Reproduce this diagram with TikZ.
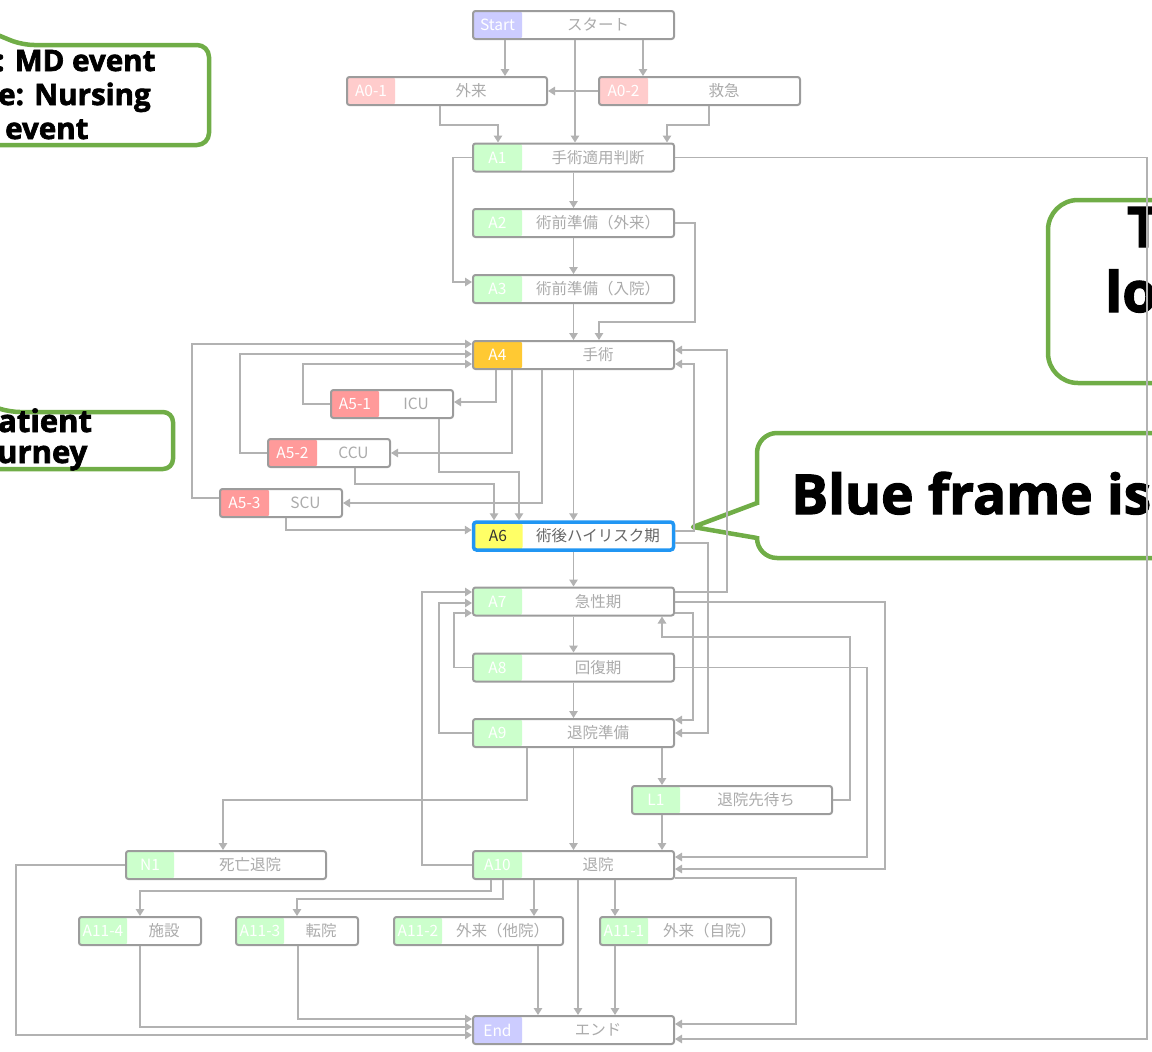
\documentclass[tikz,border=0pt]{standalone}
\usepackage{fontspec}
\newfontfamily\jpfont{Noto Sans CJK JP}
\newfontfamily\callfont{Open Sans}[BoldFeatures={FakeBold=2.2}]
\usetikzlibrary{arrows.meta}

\definecolor{edgegray}{HTML}{B2B2B2}
\definecolor{framegray}{HTML}{9C9C9C}
\definecolor{textgray}{HTML}{ABABAB}
\definecolor{lavender}{HTML}{CCCCFF}
\definecolor{pinklight}{HTML}{FFCCCC}
\definecolor{salmon}{HTML}{FF9A9A}
\definecolor{mint}{HTML}{CCFFCC}
\definecolor{amber}{HTML}{FFC933}
\definecolor{lemon}{HTML}{FFFF66}
\definecolor{frameblue}{HTML}{2196F3}
\definecolor{darklabel}{HTML}{333333}
\definecolor{midtext}{HTML}{666666}
\definecolor{calloutgreen}{HTML}{70AD47}

\tikzset{
  stagebox/.style={draw=framegray, line width=2pt, rounded corners=2.5pt, fill=white,
    minimum height=28pt, inner sep=0pt, text=textgray,
    font=\jpfont\fontsize{15.5}{18}\selectfont},
  labeltext/.style={text=white, inner sep=0pt},
  flow/.style={draw=edgegray, line width=1.3pt, -{Triangle[length=7pt,width=8.5pt]}},
  callout/.style={draw=calloutgreen, line width=4.5pt, line join=round},
  calltext/.style={text=black, inner sep=0pt, anchor=base west},
}

% #1 name, #2 x, #3 y, #4 width, #5 tag width, #6 tag fill, #7 tag, #8 text, #9 extra style
\newcommand\stagenode[9]{%
  \node[stagebox, minimum width=#4pt-2pt, #9, path picture={
      \fill[#6] (path picture bounding box.north west) rectangle
        ([xshift=#5pt]path picture bounding box.south west);
      \node[labeltext] at ([xshift=0.5*#5pt]path picture bounding box.west) {#7};
    }] (#1) at (#2,#3) {\hspace*{#5pt}#8};%
}

\begin{document}
\begin{tikzpicture}[x=1pt,y=-1pt]
\useasboundingbox (0,0) rectangle (1152,1052);
\clip (0,0) rectangle (1152,1052);

% ---------- callouts ----------
\draw[callout, rounded corners=12pt] (-12,31) -- (22,45) -- (209,45) -- (209,145) -- (-20,145);
\draw[callout, rounded corners=10pt] (-12,405) -- (10,412) -- (173,412) -- (173,469) -- (-20,469);
\draw[callout, rounded corners=30pt] (1200,200) -- (1048,200) -- (1048,383) -- (1200,383);
\draw[callout, rounded corners=20pt] (1200,433) -- (757,433) -- (757,558) -- (1200,558);
\fill[white] (754,505) rectangle (761,536);
\draw[callout] (757,503) -- (693,527) -- (757,538);

\node[calltext, font=\callfont\bfseries\fontsize{29.5}{33}\selectfont] (tla) at (-4,71) {: MD event};
\node[calltext, font=\callfont\bfseries\fontsize{29.5}{33}\selectfont] (tlb) at (-2,105) {e: Nursing};
\node[calltext, font=\callfont\bfseries\fontsize{29.5}{33}\selectfont] (tlc) at (5,139) {event};
\node[calltext, font=\callfont\bfseries\fontsize{31}{34}\selectfont] (mla) at (-2,432) {atient};
\node[calltext, font=\callfont\bfseries\fontsize{31}{34}\selectfont] (mlb) at (-3,463) {urney};
\node[calltext, font=\callfont\bfseries\fontsize{56}{60}\selectfont] (tra) at (1127,247) {T};
\node[calltext, font=\callfont\bfseries\fontsize{56}{60}\selectfont] (trb) at (1105,312) {lo};
\node[calltext, font=\callfont\bfseries\fontsize{55}{60}\selectfont] (bra) at (791,514) {Blue frame is};

% ---------- stages ----------
\stagenode{Start}{573.5}{25}{203}{49}{lavender}{Start}{スタート}{}
\stagenode{A01}{447}{91}{202}{48}{pinklight}{A0-1}{外来}{}
\stagenode{A02}{699.5}{91}{203}{49}{pinklight}{A0-2}{救急}{}
\stagenode{A1}{573.5}{157.5}{203}{49}{mint}{A1}{手術適用判断}{}
\stagenode{A2}{573.5}{223}{203}{49}{mint}{A2}{術前準備（外来）}{}
\stagenode{A3}{573.5}{289}{203}{49}{mint}{A3}{術前準備（入院）}{}
\stagenode{A4}{573.5}{355}{203}{49}{amber}{A4}{手術}{}
\stagenode{A51}{392}{404}{124}{48}{salmon}{A5-1}{ICU}{}
\stagenode{A52}{329}{453}{124}{49}{salmon}{A5-2}{CCU}{}
\stagenode{A53}{281}{503}{124}{49}{salmon}{A5-3}{SCU}{}
\stagenode{A6}{573.5}{536}{202}{49}{lemon}{\color{darklabel}A6}{術後ハイリスク期}{draw=frameblue, line width=3.5pt, rounded corners=3pt, text=midtext}
\stagenode{A7}{573.5}{601.5}{203}{49}{mint}{A7}{急性期}{}
\stagenode{A8}{573.5}{667.5}{203}{49}{mint}{A8}{回復期}{}
\stagenode{A9}{573.5}{733}{203}{49}{mint}{A9}{退院準備}{}
\stagenode{L1}{732}{800}{202}{48}{mint}{L1}{退院先待ち}{}
\stagenode{N1}{226}{865}{202}{48}{mint}{N1}{死亡退院}{}
\stagenode{A10}{573.5}{865}{203}{49}{mint}{A10}{退院}{}
\stagenode{A114}{140}{931}{124}{48}{mint}{A11-4}{施設}{}
\stagenode{A113}{297}{931}{124}{48}{mint}{A11-3}{転院}{}
\stagenode{A112}{478.5}{931}{171}{48}{mint}{A11-2}{外来（他院）}{}
\stagenode{A111}{685.5}{931}{173}{48}{mint}{A11-1}{外来（自院）}{}
\stagenode{End}{573.5}{1030}{203}{49}{lavender}{End}{エンド}{}

% ---------- transitions ----------
\draw[flow] (Start.south -| 505,0) -- (A01.north -| 505,0);
\draw[flow] (Start.south -| 575,0) -- (A1.north -| 575,0);
\draw[flow] (Start.south -| 643,0) -- (A02.north -| 643,0);
\draw[flow] (A02.west) -- (A01.east);
\draw[flow] (A01.south -| 440,0) -- (440,125) -- (498,125) -- (A1.north -| 498,0);
\draw[flow] (A02.south -| 709,0) -- (709,125) -- (667,125) -- (A1.north -| 667,0);
\draw[flow] (A1.east) -- (1147,157.5) -- (1147,1039) -- (End.east |- 0,1039);
\draw[flow] (A1.south) -- (A2.north);
\draw[flow] (A1.west) -- (453,157.5) -- (453,282) -- (A3.west |- 0,282);
\draw[flow] (A2.south) -- (A3.north);
\draw[flow] (A2.east) -- (695,223) -- (695,322) -- (599,322) -- (A4.north -| 599,0);
\draw[flow] (A3.south) -- (A4.north);

\draw[flow] (A4.south -| 496,0) -- (496,402) -- (A51.east |- 0,402);
\draw[flow] (A4.south -| 512,0) -- (512,453) -- (A52.east);
\draw[flow] (A4.south -| 542,0) -- (542,503) -- (A53.east);
\draw[flow] (A4.south) -- (A6.north);
\draw[flow] (A51.west) -- (303,404) -- (303,364) -- (A4.west |- 0,364);
\draw[flow] (A52.west) -- (240,453) -- (240,354) -- (A4.west |- 0,354);
\draw[flow] (A53.west |- 0,498) -- (192,498) -- (192,344) -- (A4.west |- 0,344);
\draw[flow] (A51.south -| 439,0) -- (439,472) -- (519,472) -- (A6.north -| 519,0);
\draw[flow] (A52.south -| 355,0) -- (355,484) -- (494,484) -- (A6.north -| 494,0);
\draw[flow] (A53.south -| 286,0) -- (286,530) -- (A6.west |- 0,530);

\draw[flow] (A6.east |- 0,531) -- (694,531) -- (694,364) -- (A4.east |- 0,364);
\draw[flow] (A7.east |- 0,592) -- (727,592) -- (727,350) -- (A4.east |- 0,350);
\draw[flow] (A6.east |- 0,543) -- (708,543) -- (708,733) -- (A9.east |- 0,733);
\draw[flow] (A6.south) -- (A7.north);

\draw[flow] (A7.south) -- (A8.north);
\draw[flow] (A8.south) -- (A9.north);
\draw[flow] (A7.east |- 0,613) -- (693,613) -- (693,720) -- (A9.east |- 0,720);
\draw[flow] (A7.east |- 0,602) -- (885,602) -- (885,869) -- (A10.east |- 0,869);
\draw[flow] (A8.east) -- (867,667.5) -- (867,857) -- (A10.east |- 0,857);
\draw[flow] (L1.east) -- (850,800) -- (850,637) -- (662,637) -- (A7.south -| 662,0);
\draw[flow] (A8.west) -- (454,667.5) -- (454,613) -- (A7.west |- 0,613);
\draw[flow] (A9.west) -- (439,733) -- (439,603) -- (A7.west |- 0,603);
\draw[flow] (A10.west) -- (422,865) -- (422,592) -- (A7.west |- 0,592);

\draw[flow] (A9.south -| 662,0) -- (L1.north -| 662,0);
\draw[flow] (A9.south) -- (A10.north);
\draw[flow] (A9.south -| 527,0) -- (527,800) -- (223,800) -- (N1.north -| 223,0);
\draw[flow] (L1.south -| 662,0) -- (A10.north -| 662,0);

\draw[flow] (A10.south -| 491,0) -- (491,891) -- (140,891) -- (A114.north -| 140,0);
\draw[flow] (A10.south -| 503,0) -- (503,899) -- (297,899) -- (A113.north -| 297,0);
\draw[flow] (A10.south -| 534,0) -- (A112.north -| 534,0);
\draw[flow] (A10.south -| 578,0) -- (End.north -| 578,0);
\draw[flow] (A10.south -| 615,0) -- (A111.north -| 615,0);
\draw[flow] (A10.east |- 0,878) -- (796,878) -- (796,1024) -- (End.east |- 0,1024);

\draw[flow] (N1.west) -- (16,865) -- (16,1035) -- (End.west |- 0,1035);
\draw[flow] (A114.south -| 140,0) -- (140,1027) -- (End.west |- 0,1027);
\draw[flow] (A113.south -| 298,0) -- (298,1019) -- (End.west |- 0,1019);
\draw[flow] (A112.south -| 538,0) -- (End.north -| 538,0);
\draw[flow] (A111.south -| 615,0) -- (End.north -| 615,0);
\end{tikzpicture}
\end{document}
